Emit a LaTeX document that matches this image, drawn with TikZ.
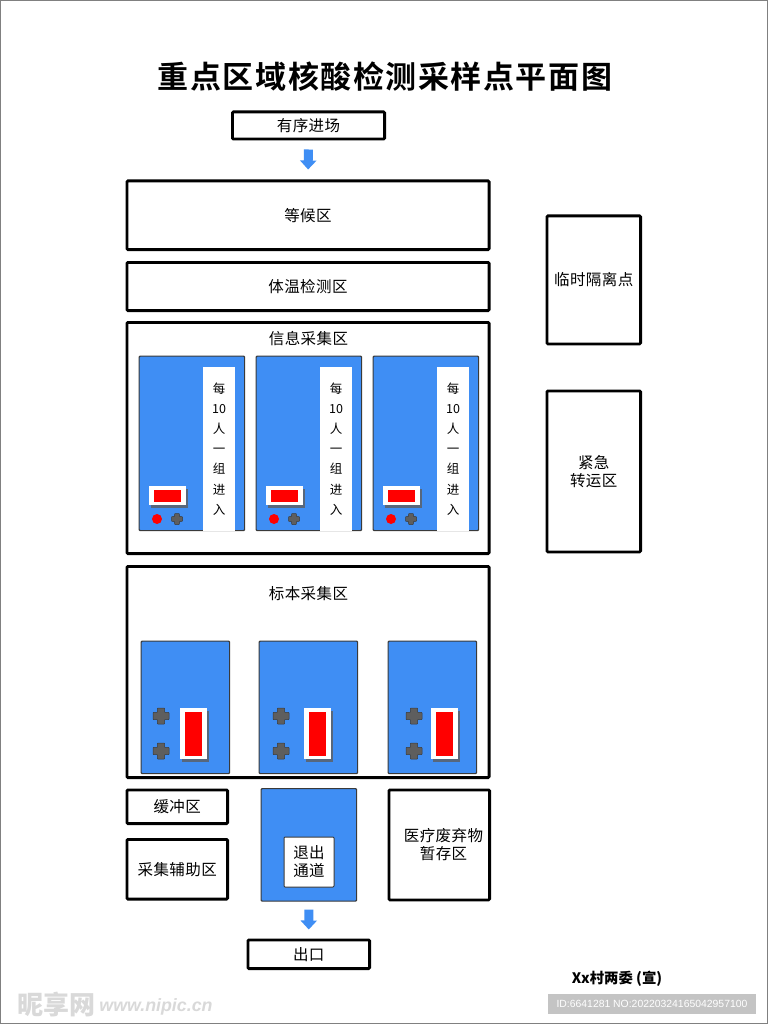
\documentclass[tikz,border=0pt]{standalone}
\usepackage{fontspec}
\setmainfont{Noto Sans CJK SC}
\newfontfamily\labelfont[LetterSpace=3]{Noto Sans CJK SC}
\newfontfamily\titlefont[LetterSpace=5,BoldFont={Noto Sans CJK SC Bold}]{Noto Sans CJK SC}
\newfontfamily\idfont{Liberation Sans}
\usetikzlibrary{arrows.meta, positioning, shadows}
\definecolor{planBlue}{HTML}{3F8EF4}
\definecolor{planRed}{HTML}{FF0000}
\definecolor{planGray}{HTML}{5E5E5E}
\definecolor{planEdge}{HTML}{3A3A3A}
\definecolor{planId}{HTML}{C4C4C4}
\tikzset{
  plusmark/.pic={
    \fill[planGray, draw=planEdge, line width=0.5pt, rounded corners=0.6pt]
      (-0.45,-1) -- (0.45,-1) -- (0.45,-0.45) -- (1,-0.45) -- (1,0.45) -- (0.45,0.45)
      -- (0.45,1) -- (-0.45,1) -- (-0.45,0.45) -- (-1,0.45) -- (-1,-0.45) -- (-0.45,-0.45) -- cycle;
  }}

\begin{document}
\begin{tikzpicture}[x=1pt, y=-1pt,
  zone/.style={draw=black, line width=2.8pt, fill=white, rounded corners=1pt, align=center, inner sep=0pt,
    font=\labelfont\fontsize{15.5}{18}\selectfont},
  zonelabel/.style={font=\labelfont\fontsize{15.5}{18}\selectfont, align=center},
  bluepanel/.style={draw=planEdge, line width=1.2pt, fill=planBlue, rounded corners=1pt, inner sep=0pt, anchor=north west},
  notestrip/.style={fill=white, inner sep=0pt, minimum width=32pt, minimum height=164pt, align=center,
    font=\fontsize{12.5}{20.1}\selectfont},
  whitecard/.style={fill=white, inner sep=0pt, drop shadow={shadow xshift=2pt, shadow yshift=-2.5pt, fill=planGray, opacity=0.8}},
  redcard/.style={fill=planRed, inner sep=0pt},
  flowarrow/.style={planBlue, line width=9pt, -{Triangle[length=9pt, width=16pt]}}]

  \useasboundingbox (0,0) rectangle (768,1024);
  \draw[fill=white, draw=gray, line width=1pt] (0.5,0.5) rectangle (767.5,1023.5);

  \node[font=\titlefont\bfseries\fontsize{31}{36}\selectfont] (title) at (385,77) {重点区域核酸检测采样点平面图};

  \node[zone, anchor=north west, minimum width=152.2pt, minimum height=27.2pt] (enter) at (231,110.5) {有序进场};
  \node[zone, anchor=north west, minimum width=362.2pt, minimum height=68.7pt] (wait) at (125.5,179.5) {等候区};
  \node[zone, below=10pt of wait, minimum width=362.2pt, minimum height=48.2pt] (temp) {体温检测区};
  \node[zone, below=9pt of temp, minimum width=362.2pt, minimum height=231.2pt] (info) {};
  \node[zone, below=10pt of info, minimum width=362.2pt, minimum height=211.2pt] (sample) {};
  \node[zonelabel] (infolabel) at (308.5,338.5) {信息采集区};
  \node[zonelabel] (samplelabel) at (308.5,593.5) {标本采集区};

  \node[zone, anchor=north west, minimum width=100.7pt, minimum height=33.7pt] (buffer) at (125.5,788.5) {缓冲区};
  \node[zone, below=13pt of buffer, minimum width=100.7pt, minimum height=59.7pt] (aux) {采集辅助区};
  \node[zone, anchor=north west, minimum width=100.7pt, minimum height=110pt] (waste) at (387.5,788.5) {};
  \node[zonelabel] (wastelabel) at (443.5,845) {医疗废弃物\\暂存区};
  \node[zone, anchor=north west, minimum width=121.7pt, minimum height=28.7pt] (exit) at (246.5,938.5) {出口};
  \node[zone, anchor=north west, minimum width=93.7pt, minimum height=128pt] (isolate) at (545.5,214.5) {临时隔离点};
  \node[zone, anchor=north west, minimum width=93.7pt, minimum height=161pt] (transfer) at (545.5,389.5) {紧急\\转运区};

  % info area
  \foreach \i/\x in {1/138.5, 2/255.5, 3/372.5} {
    \node[bluepanel, minimum width=105.5pt, minimum height=174.5pt] (infopanel\i) at (\x,355.5) {};
    \node[notestrip] (strip\i) at (\x+80.5,449) {每\\10\\人\\一\\组\\进\\入};
    \node[whitecard, minimum width=37pt, minimum height=19pt] (desk\i) at (\x+29,495.5) {};
    \node[redcard, minimum width=27pt, minimum height=12pt] (deskred\i) at (desk\i) {};
    \node[circle, fill=planRed, inner sep=0pt, minimum size=10pt] (dot\i) at (\x+18.5,519) {};
    \pic[scale=5.5] at (\x+38.5,519) {plusmark};
  }

  % sample area
  \foreach \i/\x/\w/\c/\d in {1/140.5/88.5/161/193.5, 2/258.5/98.5/281/317.5, 3/387.5/88.5/414/444.5} {
    \node[bluepanel, minimum width=\w pt, minimum height=132.5pt] (samplepanel\i) at (\x,640.5) {};
    \node[whitecard, minimum width=27pt, minimum height=51pt] (booth\i) at (\d,733.5) {};
    \node[redcard, minimum width=17pt, minimum height=44pt] (boothred\i) at (booth\i) {};
    \pic[scale=8] at (\c,716) {plusmark};
    \pic[scale=8] at (\c,751) {plusmark};
  }

  \node[bluepanel, minimum width=95.5pt, minimum height=112.5pt] (outway) at (260.5,788) {};
  \node[fill=white, draw=planEdge, line width=1pt, rounded corners=1pt, minimum width=50pt, minimum height=50pt,
    inner sep=0pt, align=center, font=\labelfont\fontsize{15.5}{18}\selectfont] (outdoor) at (309,862) {退出\\通道};

  \draw[flowarrow, shorten <=9pt, shorten >=10pt] (enter.south) -- (wait.north);
  \draw[flowarrow, shorten <=8pt, shorten >=9pt] (outway.south) -- (exit.north);

  \node[font=\bfseries\fontsize{14.4}{17}\selectfont] (owner) at (617,979) {Xx村两委 (宣)};
  \node[fill=planId, text=white, minimum width=208pt, minimum height=20pt, inner sep=0pt,
    font=\idfont\fontsize{10.4}{14}\selectfont] (idbox) at (652,1004) {ID:6641281 NO:20220324165042957100};
  \node[text=gray!30, font=\bfseries\fontsize{26}{30}\selectfont] (mark) at (56,1005) {昵享网};
  \node[text=gray!30, font=\idfont\bfseries\itshape\fontsize{17.8}{20}\selectfont] (markurl) at (156,1007) {www.nipic.cn};
\end{tikzpicture}
\end{document}
